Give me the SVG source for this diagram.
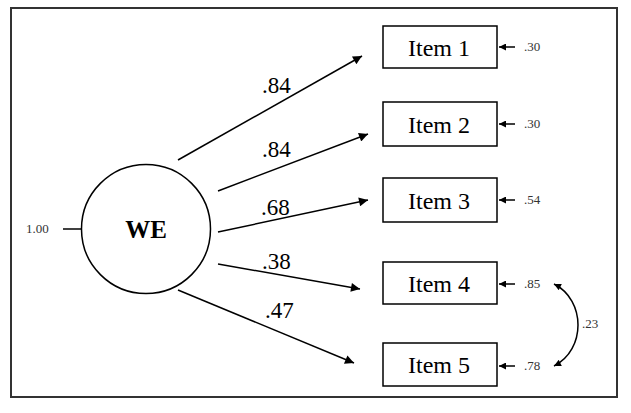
<svg xmlns="http://www.w3.org/2000/svg" width="631" height="413" viewBox="0 0 631 413">
<defs>
<marker id="ah" viewBox="0 0 10 10" refX="10" refY="5" markerWidth="11" markerHeight="9" markerUnits="userSpaceOnUse" orient="auto-start-reverse">
<path d="M0,0 L10,5 L0,10 z" fill="#000"/>
</marker>
<marker id="ahs" viewBox="0 0 10 10" refX="10" refY="5" markerWidth="8" markerHeight="7" markerUnits="userSpaceOnUse" orient="auto-start-reverse">
<path d="M0,0 L10,5 L0,10 z" fill="#000"/>
</marker>
</defs>
<style>
.box{fill:#fff;stroke:#000;stroke-width:1.5}
.lbl{font-family:"Liberation Serif","Times New Roman",serif;font-size:24px;fill:#000;text-anchor:middle}
.coef{font-family:"Liberation Serif","Times New Roman",serif;font-size:23px;fill:#000}
.small{font-family:"Liberation Serif","Times New Roman",serif;font-size:13px;fill:#333}
.ln{stroke:#000;stroke-width:1.5;fill:none}
</style>
<rect x="11" y="8" width="606" height="389" fill="#fff" stroke="#333" stroke-width="2"/>
<g id="WE">
<circle cx="146" cy="229" r="64.5" class="box"/>
<text x="146" y="238" class="lbl" font-weight="bold" style="font-size:25px">WE</text>
</g>
<g id="item1"><rect x="383" y="26" width="114" height="42" class="box"/><text x="439" y="56" class="lbl">Item 1</text></g>
<g id="item2"><rect x="383" y="102" width="114" height="44" class="box"/><text x="439" y="133" class="lbl">Item 2</text></g>
<g id="item3"><rect x="383" y="178" width="114" height="44" class="box"/><text x="439" y="209" class="lbl">Item 3</text></g>
<g id="item4"><rect x="383" y="262" width="114" height="42" class="box"/><text x="439" y="292" class="lbl">Item 4</text></g>
<g id="item5"><rect x="383" y="343" width="114" height="43" class="box"/><text x="439" y="373" class="lbl">Item 5</text></g>
<g id="connectors">
<line x1="63" y1="229" x2="82" y2="229" class="ln"/>
<line x1="178" y1="160" x2="362" y2="56" class="ln" marker-end="url(#ah)"/>
<line x1="218" y1="191" x2="368" y2="134" class="ln" marker-end="url(#ah)"/>
<line x1="218" y1="232" x2="368" y2="200" class="ln" marker-end="url(#ah)"/>
<line x1="218" y1="264" x2="360" y2="289" class="ln" marker-end="url(#ah)"/>
<line x1="178" y1="290" x2="354" y2="363" class="ln" marker-end="url(#ah)"/>
<line x1="515" y1="47" x2="499" y2="47" class="ln" marker-end="url(#ahs)"/>
<line x1="515" y1="124" x2="499" y2="124" class="ln" marker-end="url(#ahs)"/>
<line x1="515" y1="200" x2="499" y2="200" class="ln" marker-end="url(#ahs)"/>
<line x1="515" y1="284" x2="499" y2="284" class="ln" marker-end="url(#ahs)"/>
<line x1="515" y1="366" x2="499" y2="366" class="ln" marker-end="url(#ahs)"/>
<path d="M554,284 C586,300 586,350 554,366" class="ln" marker-start="url(#ahs)" marker-end="url(#ahs)"/>
</g>
<g id="labels">
<text x="262" y="93" class="coef">.84</text>
<text x="262" y="157" class="coef">.84</text>
<text x="261" y="215" class="coef">.68</text>
<text x="262" y="269" class="coef">.38</text>
<text x="265" y="318" class="coef">.47</text>
<text x="26" y="233" class="small">1.00</text>
<text x="524" y="51" class="small">.30</text>
<text x="524" y="128" class="small">.30</text>
<text x="524" y="204" class="small">.54</text>
<text x="524" y="288" class="small">.85</text>
<text x="524" y="370" class="small">.78</text>
<text x="582" y="328" class="small">.23</text>
</g>
</svg>
